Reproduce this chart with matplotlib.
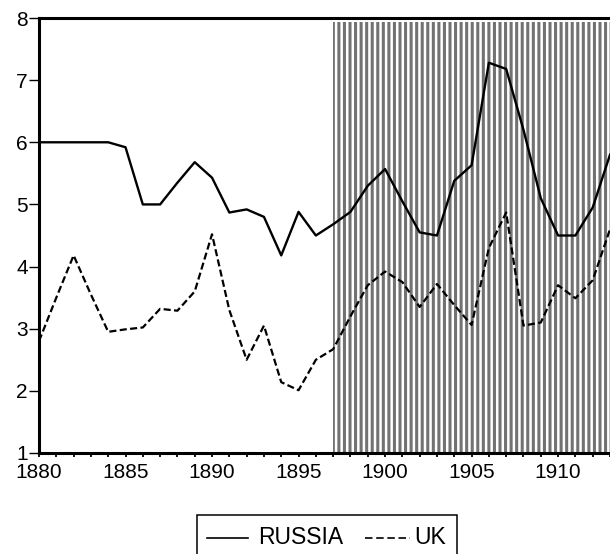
import matplotlib
matplotlib.use("Agg")
import matplotlib.pyplot as plt
from matplotlib.lines import Line2D
from matplotlib.patches import Rectangle

years = list(range(1880, 1914))
russia = [6.0, 6.0, 6.0, 6.0, 6.0, 5.92, 5.0, 5.0, 5.35, 5.68,
          5.43, 4.87, 4.92, 4.8, 4.18, 4.88, 4.5, 4.68, 4.88, 5.3,
          5.57, 5.05, 4.55, 4.5, 5.38, 5.63, 7.28, 7.18, 6.2, 5.1,
          4.5, 4.5, 4.95, 5.8]
uk = [2.8, 3.5, 4.18, 3.55, 2.95, 2.99, 3.02, 3.32, 3.29, 3.6,
      4.52, 3.3, 2.5, 3.05, 2.14, 2.01, 2.5, 2.67, 3.2, 3.7,
      3.92, 3.75, 3.35, 3.72, 3.38, 3.06, 4.3, 4.87, 3.05, 3.1,
      3.7, 3.49, 3.78, 4.6]
shade_start = 1897
x_ticks = [1880, 1885, 1890, 1895, 1900, 1905, 1910]
y_ticks = [1, 2, 3, 4, 5, 6, 7, 8]
labels = ['RUSSIA', 'UK']

plt.rcParams['font.family'] = ['Liberation Sans', 'DejaVu Sans']
plt.rcParams['hatch.linewidth'] = 1.8
plt.rcParams['hatch.color'] = 'white'

W, H = 610, 554
fig = plt.figure(figsize=(W / 100, H / 100), dpi=100)
ax = fig.add_axes([39 / W, 1 - 453 / H, 1 - 39 / W, (453 - 18) / H])

ax.axvspan(shade_start, 1914, ymin=0, ymax=0.99, facecolor='#727272',
           edgecolor='white', hatch='|||', linewidth=0, zorder=1)

ax.plot(years, russia, color='black', lw=1.7, zorder=3)
ax.plot(years, uk, color='black', lw=1.6, ls=(0, (3.2, 1.5)), zorder=3)

ax.set_xlim(1880, 1912.55)
ax.set_ylim(1, 8)
ax.set_xticks(x_ticks)
ax.set_xticks(years, minor=True)
ax.set_yticks(y_ticks)
ax.tick_params(axis='x', which='major', labelsize=15, length=3, width=1.3, direction='out', pad=4)
ax.tick_params(axis='x', which='minor', length=3, width=1.3, direction='out')
ax.tick_params(axis='y', which='major', labelsize=15, length=7.5, width=1.0, direction='out', pad=0.5)

for s in ['top', 'left', 'bottom']:
    ax.spines[s].set_linewidth(2.2)
ax.spines['right'].set_visible(False)

# legend box (EViews style), partly cropped at the bottom
def fx(px):
    return px / W

def fy(py):
    return 1 - py / H

fig.add_artist(Rectangle((fx(196.7), fy(570)), fx(456.7) - fx(196.7), fy(515) - fy(570),
                         transform=fig.transFigure, facecolor='white', edgecolor='black', lw=1.1))
ly = fy(538)
fig.add_artist(Line2D([fx(206.7), fx(248)], [ly, ly], transform=fig.transFigure, color='black', lw=1.2))
fig.text(fx(258), ly, labels[0], fontsize=16.5, va='center', ha='left')
fig.add_artist(Line2D([fx(365), fx(410)], [ly, ly], transform=fig.transFigure, color='black', lw=1.2,
                      ls=(0, (4.5, 2.2))))
fig.text(fx(414), ly, labels[1], fontsize=16.5, va='center', ha='left')

fig.savefig('out.png', dpi=100)
